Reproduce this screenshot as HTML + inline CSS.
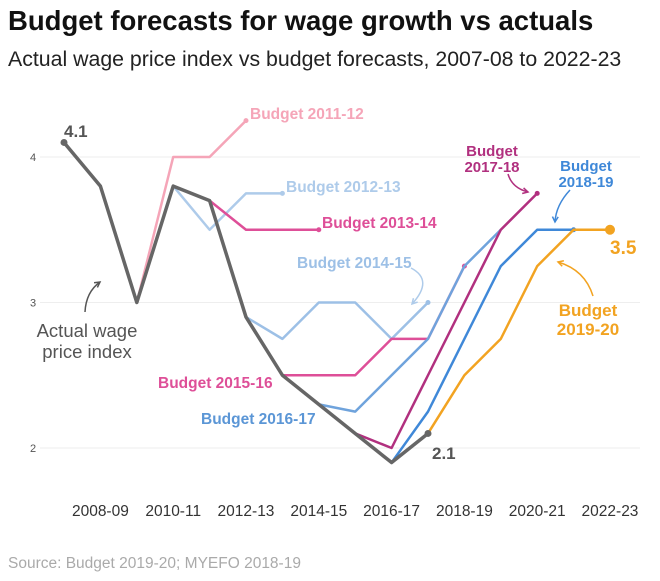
<!DOCTYPE html>
<html><head><meta charset="utf-8"><style>
body{margin:0;background:#fff;width:660px;height:576px;overflow:hidden;font-family:"Liberation Sans",sans-serif}
</style></head><body>
<svg width="660" height="576">
<text x="8" y="30" font-size="27.5" font-weight="bold" fill="#111">Budget forecasts for wage growth vs actuals</text>
<text x="8" y="66" font-size="21.3" fill="#222">Actual wage price index vs budget forecasts, 2007-08 to 2022-23</text>
<g id="grid"></g><g id="lines"></g><g id="labels"></g>
<text x="8" y="568" font-size="15.5" fill="#aaa">Source: Budget 2019-20; MYEFO 2018-19</text>
</svg>
<script>
const years=["2007-08","2008-09","2009-10","2010-11","2011-12","2012-13","2013-14","2014-15","2015-16","2016-17","2017-18","2018-19","2019-20","2020-21","2021-22","2022-23"];
const tickLabels=["2008-09","2010-11","2012-13","2014-15","2016-17","2018-19","2020-21","2022-23"];
const yTicks=[2,3,4];
const actual=[4.1,3.8,3.0,3.8,3.7,2.9,2.5,2.3,2.1,1.9,2.1];
const b1112=[3.0,4.0,4.0,4.25];
const b1213=[3.8,3.5,3.75,3.75];
const b1314=[3.7,3.5,3.5,3.5];
const b1415=[2.9,2.75,3.0,3.0,2.75,3.0];
const b1516=[2.5,2.5,2.5,2.75,2.75,3.25];
const b1617=[2.3,2.25,2.5,2.75,3.25,3.5];
const b1718=[2.1,2.0,2.5,3.0,3.5,3.75];
const b1819=[1.9,2.25,2.75,3.25,3.5,3.5];
const b1920=[2.1,2.5,2.75,3.25,3.5,3.5];
const NS="http://www.w3.org/2000/svg";
const x=i=>64+i*36.4;
const y=v=>448-(v-2)*145.5;
const idx=s=>years.indexOf(s);
function mk(tag,attrs,parent){const e=document.createElementNS(NS,tag);for(const k in attrs)e.setAttribute(k,attrs[k]);document.getElementById(parent).appendChild(e);return e;}
yTicks.forEach(t=>{
  const l=mk('line',{x1:40,x2:640,y1:y(t),y2:y(t),stroke:'#eee','stroke-width':1},'grid');
  
  
  const tx=mk('text',{x:30,y:y(t)+4,'font-size':11,fill:'#555'},'grid');tx.textContent=t;
  
  
});
tickLabels.forEach(t=>{
  const tx=mk('text',{x:x(idx(t)),y:516,'font-size':15.5,fill:'#333','text-anchor':'middle'},'grid');tx.textContent=t;
  
  
});
function series(vals,start,color,name,w,endDot,dotR){
  const s=idx(start);
  const p=mk('polyline',{points:vals.map((v,i)=>x(s+i)+','+y(v)).join(' '),fill:'none',stroke:color,'stroke-width':w||3,'stroke-linejoin':'round'},'lines');
  
  
  if(endDot){const n=vals.length-1;const c=mk('circle',{cx:x(s+n),cy:y(vals[n]),r:dotR||2.5,fill:color},'lines');
  
  }
}
series(b1112,"2009-10","#f5a5b8","line-budget-2011-12",2.5,true);
series(b1213,"2010-11","#aecbea","line-budget-2012-13",2.5,true);
series(b1314,"2011-12","#de4f98","line-budget-2013-14",2.5,true);
series(b1415,"2012-13","#9dc0e6","line-budget-2014-15",2.5,true);
series(b1516,"2013-14","#de4f98","line-budget-2015-16",2.5,true);
series(b1617,"2014-15","#6fa3dc","line-budget-2016-17",2.5,false);
series(b1718,"2015-16","#b1307f","line-budget-2017-18",2.5,true);
series(b1819,"2016-17","#3f88d8","line-budget-2018-19",2.5,true);
series(b1920,"2017-18","#f2a321","line-budget-2019-20",2.5,true,5);
series(actual,"2007-08","#666","line-actual-wage-index",3.5,true,3.5);
{const c=mk('circle',{cx:x(0),cy:y(actual[0]),r:3.5,fill:'#666'},'lines');

}
const lbls=[
 ["4.1",64,137,"#555",17,"start"],["2.1",432,459,"#555",17,"start"],["3.5",610,254,"#f2a321",19,"start"],
 ["Budget 2011-12",250,119,"#f5a5b8",15.5,"start"],["Budget 2012-13",286,192,"#aecbea",15.5,"start"],
 ["Budget 2013-14",322,228,"#de4f98",15.5,"start"],["Budget 2014-15",297,268,"#9dc0e6",15.5,"start"],
 ["Budget 2015-16",158,388,"#de4f98",15.5,"start"],["Budget 2016-17",201,424,"#5b96d6",15.5,"start"],
 ["Budget",492,156,"#b1307f",15,"middle"],["2017-18",492,172,"#b1307f",15,"middle"],
 ["Budget",586,171,"#3f88d8",15,"middle"],["2018-19",586,187,"#3f88d8",15,"middle"],
 ["Budget",588,316,"#f2a321",17,"middle"],["2019-20",588,335,"#f2a321",17,"middle"],
 ["Actual wage",87,337,"#555",18.5,"middle",true],["price index",87,358,"#555",18.5,"middle",true]
];
lbls.forEach(l=>{const t=mk('text',{x:l[1],y:l[2],fill:l[3],'font-size':l[4],'font-weight':l[6]?'normal':'bold','text-anchor':l[5]},'labels');t.textContent=l[0];
 
 });
const arrows=[
 ["M85,312 Q86,292 100,282","#555"],["M411,268 Q434,280 412,304","#aecbea"],
 ["M508,174 Q512,188 528,192","#b1307f"],["M570,190 Q556,205 555,222","#3f88d8"],
 ["M593,296 Q585,270 558,262","#f2a321"]
];
arrows.forEach((a,i)=>{const p=mk('path',{d:a[0],fill:'none',stroke:a[1],'stroke-width':1.5},'labels');
 
 
 const m=a[0].match(/[-\d.]+/g).map(Number);const ex=m[4],ey=m[5],cx=m[2],cy=m[3];
 const ang=Math.atan2(ey-cy,ex-cx);const s=6;
 const h=mk('path',{d:`M${ex-s*Math.cos(ang-0.5)},${ey-s*Math.sin(ang-0.5)} L${ex},${ey} L${ex-s*Math.cos(ang+0.5)},${ey-s*Math.sin(ang+0.5)}`,fill:'none',stroke:a[1],'stroke-width':1.5},'labels');
 
 });
</script>
</body></html>
